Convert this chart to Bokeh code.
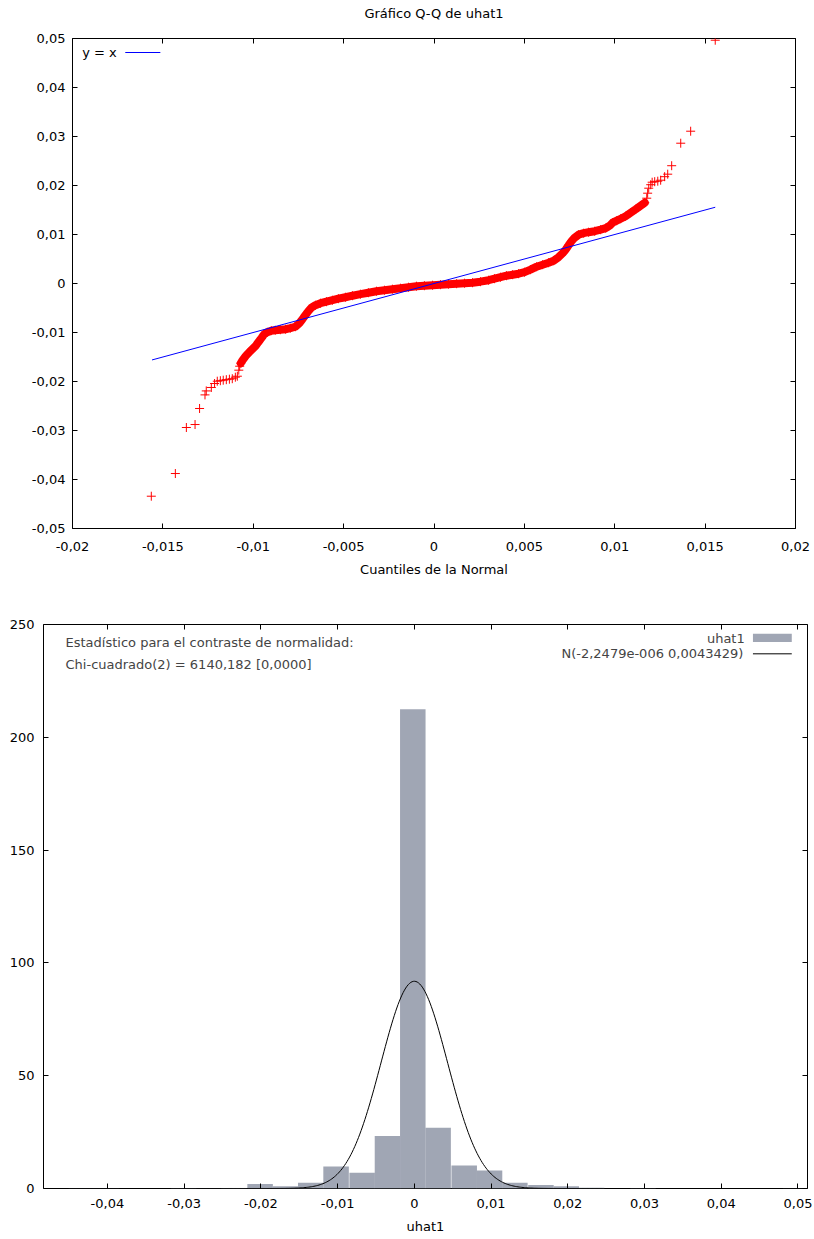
import numpy as np
from bokeh.plotting import figure
from bokeh.models import (Range1d, LinearAxis, FixedTicker, CustomJSTickFormatter,
                          Label, BoxAnnotation, Arrow)
from bokeh.layouts import column
from bokeh.embed import file_html
from bokeh.resources import INLINE

FONT = "DejaVu Sans"
FS = "13px"

# ---------------- Q-Q plot data: theoretical normal quantiles vs sample quantiles of uhat1
normal_quantiles = [
    -0.01564, -0.01431, -0.01370, -0.01322, -0.01297, -0.01267, -0.01260, -0.01232, -0.01214,
    -0.01199, -0.01182, -0.01166, -0.01149, -0.01132, -0.01116, -0.01099, -0.01088, -0.01080, -0.01075,
    -0.01069, -0.01055, -0.01038, -0.01022, -0.01005, -0.00988, -0.00972, -0.00955, -0.00939, -0.00922,
    -0.00900, -0.00878, -0.00850, -0.00822, -0.00795, -0.00767, -0.00745, -0.00728, -0.00712, -0.00695,
    -0.00678, -0.00656, -0.00628, -0.00595, -0.00562, -0.00529, -0.00490, -0.00451, -0.00407, -0.00363,
    -0.00318, -0.00274, -0.00230, -0.00185, -0.00141, -0.00097, -0.00053, -0.00008, 0.00036, 0.00080,
    0.00125, 0.00169, 0.00213, 0.00257, 0.00302, 0.00335, 0.00368, 0.00401, 0.00435, 0.00468, 0.00501,
    0.00534, 0.00568, 0.00601, 0.00634, 0.00662, 0.00689, 0.00712, 0.00728, 0.00745, 0.00761, 0.00778,
    0.00800, 0.00828, 0.00855, 0.00889, 0.00922, 0.00950, 0.00972, 0.00988, 0.01011, 0.01033, 0.01060,
    0.01088, 0.01116, 0.01143, 0.01166,
    0.01177, 0.01182, 0.01188, 0.01199, 0.01207, 0.01221, 0.01238, 0.01254, 0.01276, 0.01293, 0.01315,
    0.01365, 0.01420, 0.01556]
uhat1_quantiles = [
    -0.04341, -0.03878, -0.02939, -0.02878, -0.02551, -0.02273, -0.02192, -0.02122, -0.02041,
    -0.01994, -0.01984, -0.01973, -0.01963, -0.01953, -0.01943, -0.01912, -0.01892, -0.01769, -0.01688,
    -0.01627, -0.01545, -0.01463, -0.01402, -0.01341, -0.01280, -0.01198, -0.01116, -0.01035, -0.00994,
    -0.00963, -0.00953, -0.00943, -0.00933, -0.00912, -0.00882, -0.00810, -0.00729, -0.00647, -0.00565,
    -0.00494, -0.00443, -0.00402, -0.00371, -0.00341, -0.00310, -0.00280, -0.00249, -0.00218, -0.00188,
    -0.00157, -0.00137, -0.00116, -0.00096, -0.00076, -0.00055, -0.00045, -0.00035, -0.00024, -0.00014,
    -0.00004, 0.00006, 0.00016, 0.00037, 0.00067, 0.00098, 0.00129, 0.00159, 0.00180, 0.00200, 0.00231,
    0.00282, 0.00343, 0.00384, 0.00424, 0.00465, 0.00537, 0.00618, 0.00690, 0.00782, 0.00863, 0.00935,
    0.00996, 0.01027, 0.01047, 0.01067, 0.01098, 0.01129, 0.01180, 0.01241, 0.01282, 0.01322, 0.01373,
    0.01445, 0.01516, 0.01588, 0.01649,
    0.01741, 0.01843, 0.01945, 0.02016, 0.02067, 0.02078, 0.02088, 0.02108, 0.02180, 0.02231, 0.02404,
    0.02863, 0.03108, 0.04965]
yx_line = [-0.01560, 0.01556]
qq_xticks = [-0.02, -0.015, -0.01, -0.005, 0, 0.005, 0.01, 0.015, 0.02]
qq_yticks = [-0.05, -0.04, -0.03, -0.02, -0.01, 0, 0.01, 0.02, 0.03, 0.04, 0.05]

# ---------------- Histogram data (density) of uhat1
bin_centers = [-0.0434, -0.0401, -0.0368, -0.0334, -0.0301, -0.0268, -0.0235, -0.0201, -0.0168,
               -0.0135, -0.0102, -0.0068, -0.0035, -0.0002, 0.0031, 0.0065, 0.0098, 0.0131,
               0.0165, 0.0198, 0.0231, 0.0264, 0.0298, 0.0331, 0.0364, 0.0397, 0.0431, 0.0464, 0.0497]
bin_density = [0.09, 0.09, 0.0, 0.0, 0.17, 0.09, 0.26, 2.0, 1.0,
               2.5, 9.7, 7.0, 23.3, 212.4, 26.9, 10.2, 8.0, 2.5,
               1.6, 1.0, 0.34, 0.0, 0.17, 0.0, 0.0, 0.0, 0.0, 0.0, 0.09]
bin_width = 0.003325
normal_mean = -2.2479e-006
normal_sd = 0.0043429
hist_xticks = [-0.04, -0.03, -0.02, -0.01, 0, 0.01, 0.02, 0.03, 0.04, 0.05]
hist_yticks = [0, 50, 100, 150, 200, 250]

RED = "#ff0000"
BLUE = "#0000ff"
BAR = "#a0a6b4"

comma = """
var v = Math.round(tick * 100000) / 100000;
return String(v).replace('.', ',');
"""


def style(p, xticks, yticks, ylab_standoff, xlab_standoff, xlabel, title=None):
    p.outline_line_color = "black"
    p.outline_line_width = 1
    p.xgrid.visible = False
    p.ygrid.visible = False
    xa = p.below[0]
    ya = p.left[0]
    xa.ticker = FixedTicker(ticks=xticks)
    ya.ticker = FixedTicker(ticks=yticks)
    xa.formatter = CustomJSTickFormatter(code=comma)
    ya.formatter = CustomJSTickFormatter(code=comma)
    xa.major_label_standoff = xlab_standoff
    ya.major_label_standoff = ylab_standoff
    for ax in (xa, ya):
        ax.axis_line_color = None
        ax.major_tick_in = 5
        ax.major_tick_out = 0
        ax.major_tick_line_color = "black"
        ax.minor_tick_line_color = None
        ax.major_label_text_font = FONT
        ax.major_label_text_font_size = FS
        ax.major_label_text_color = "black"
        ax.axis_label_text_font = FONT
        ax.axis_label_text_font_size = FS
        ax.axis_label_text_font_style = "normal"
        ax.axis_label_text_color = "black"
    xa.axis_label = xlabel
    xa.axis_label_standoff = 8
    for loc, ticks in (("right", yticks), ("above", xticks)):
        ax = LinearAxis(ticker=FixedTicker(ticks=ticks), axis_line_color=None,
                        major_tick_in=5, major_tick_out=0, minor_tick_line_color=None,
                        major_label_text_font_size="0px", major_label_standoff=0,
                        axis_label=None, axis_label_standoff=0,
                        axis_label_text_font_size="0px",
                        formatter=CustomJSTickFormatter(code="return '';"))
        if loc == "above" and title:
            # the chart title sits above the top border, centred on the frame
            ax.axis_label = title
            ax.axis_label_standoff = 18
            ax.axis_label_text_font = FONT
            ax.axis_label_text_font_size = FS
            ax.axis_label_text_font_style = "normal"
            ax.axis_label_text_color = "black"
        p.add_layout(ax, loc)


# ================= Figure 1: Q-Q plot
p1 = figure(width=814, height=600, output_backend="svg", toolbar_location=None,
            x_range=Range1d(-0.02, 0.02), y_range=Range1d(-0.05, 0.05),
            min_border_left=72, min_border_right=19, min_border_top=38, min_border_bottom=72)
p1.frame_align = False
style(p1, qq_xticks, qq_yticks, ylab_standoff=7, xlab_standoff=13,
      xlabel="Cuantiles de la Normal", title="Gráfico Q-Q de uhat1")

nq = np.array(normal_quantiles)
sq = np.array(uhat1_quantiles)
dense = (nq >= -0.0107) & (nq <= 0.0117)
p1.line(nq[dense], sq[dense], line_color=RED, line_width=8, line_join="round", line_cap="round")
p1.scatter(nq, sq, marker="cross", size=9, line_color=RED, line_width=1)
p1.line(yx_line, yx_line, line_color=BLUE, line_width=1)

p1.add_layout(Label(x=-0.01946, y=0.04714, text="y = x", text_font=FONT, text_font_size=FS,
                    text_baseline="middle", text_align="left", text_color="black"))
p1.add_layout(Arrow(x_start=-0.01708, y_start=0.04714, x_end=-0.01514, y_end=0.04714,
                    start=None, end=None, line_color=BLUE, line_width=1))

# ================= Figure 2: histogram with normal density
p2 = figure(width=814, height=639, output_backend="svg", toolbar_location=None,
            x_range=Range1d(-0.04833, 0.05124), y_range=Range1d(0, 250),
            min_border_left=43, min_border_right=7, min_border_top=24, min_border_bottom=51)
p2.frame_align = False
style(p2, hist_xticks, hist_yticks, ylab_standoff=9, xlab_standoff=10, xlabel="uhat1")

p2.vbar(x=bin_centers, width=bin_width, top=bin_density, bottom=0,
        fill_color=BAR, line_color=None)
xs = np.linspace(-0.04833, 0.05124, 600)
pdf = np.exp(-0.5 * ((xs - normal_mean) / normal_sd) ** 2) / (normal_sd * np.sqrt(2 * np.pi))
p2.line(xs, pdf, line_color="black", line_width=1)

p2.add_layout(Label(x=-0.04546, y=242.0, text="Estadístico para el contraste de normalidad:",
                    text_font=FONT, text_font_size=FS, text_baseline="middle", text_align="left"))
p2.add_layout(Label(x=-0.04546, y=232.4, text="Chi-cuadrado(2) = 6140,182 [0,0000]",
                    text_font=FONT, text_font_size=FS, text_baseline="middle", text_align="left"))
p2.add_layout(Label(x=0.04306, y=244.0, text="uhat1",
                    text_font=FONT, text_font_size=FS, text_baseline="middle", text_align="right"))
p2.add_layout(BoxAnnotation(left=0.04413, right=0.04919, bottom=242.2, top=245.9,
                            fill_color=BAR, fill_alpha=1.0, line_color=None))
p2.add_layout(Label(x=0.04289, y=237.0, text="N(-2,2479e-006 0,0043429)",
                    text_font=FONT, text_font_size=FS, text_baseline="middle", text_align="right"))
p2.add_layout(Arrow(x_start=0.04413, y_start=237.0, x_end=0.04919, y_end=237.0,
                    start=None, end=None, line_color="black", line_width=1))

layout = column(p1, p2, spacing=0)
open("out.html", "w").write(file_html(layout, INLINE))
